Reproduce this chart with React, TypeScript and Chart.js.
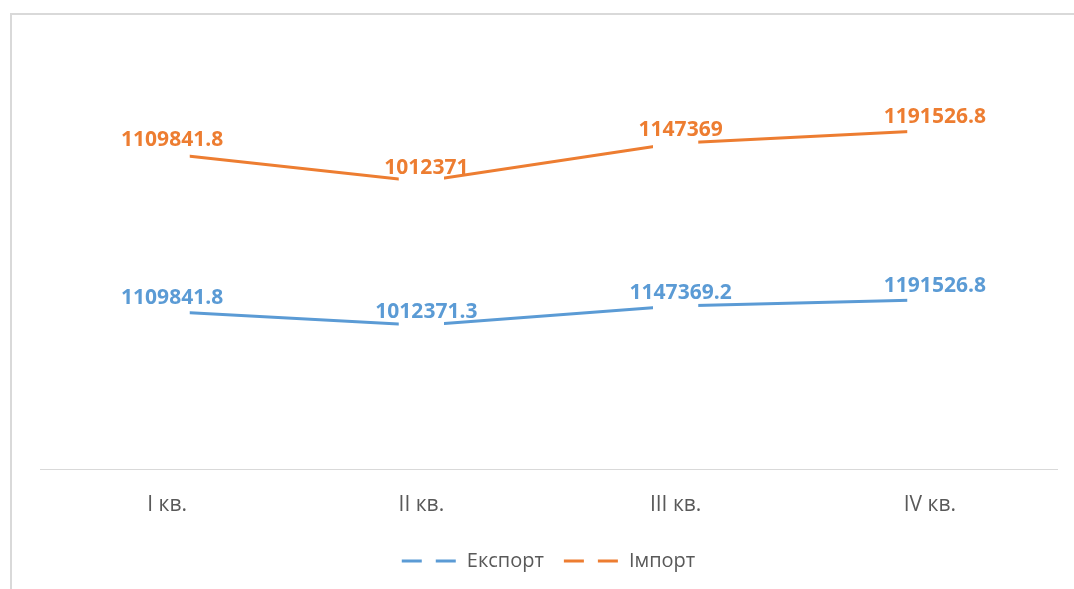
import React, { useEffect, useRef } from "react";
import { Chart, registerables } from "chart.js";

Chart.register(...registerables);

const categories = ["I кв.", "II кв.", "III кв.", "IV кв."];
const exportValues = [1109841.8, 1012371.3, 1147369.2, 1191526.8];
const importValues = [1109841.8, 1012371, 1147369, 1191526.8];
const seriesNames = ["Експорт", "Імпорт"];
const seriesColors = ["#5B9BD5", "#ED7D31"];
const yMin = 0;
const yMax = 3000000;

const FONT = "'Open Sans', 'DejaVu Sans', sans-serif";

const dataLabelPlugin = {
  id: "dataLabels",
  afterDatasetsDraw(chart: any) {
    const ctx = chart.ctx;
    ctx.save();
    ctx.font = `bold 21px ${FONT}`;
    ctx.textAlign = "center";
    ctx.textBaseline = "alphabetic";
    chart.data.datasets.forEach((ds: any, i: number) => {
      const meta = chart.getDatasetMeta(i);
      ctx.fillStyle = ds.borderColor;
      meta.data.forEach((pt: any, j: number) => {
        ctx.fillText(String(ds.data[j]), pt.x + 5, pt.y - 7.5);
      });
    });
    ctx.restore();
  },
};

export default function App() {
  const ref = useRef<HTMLCanvasElement | null>(null);

  useEffect(() => {
    if (!ref.current) return;
    const mk = (i: number, data: number[]) => ({
      label: seriesNames[i],
      data,
      borderColor: seriesColors[i],
      backgroundColor: seriesColors[i],
      borderWidth: 3,
      borderCapStyle: "butt",
      fill: false,
      tension: 0,
      pointStyle: "rect",
      pointRadius: 32,
      pointHoverRadius: 32,
      pointBackgroundColor: "#ffffff",
      pointBorderColor: "#ffffff",
      pointBorderWidth: 0,
    });
    const chart = new Chart(ref.current, {
      type: "line",
      data: {
        labels: categories,
        datasets: [mk(0, exportValues), mk(1, importValues)] as any,
      },
      plugins: [dataLabelPlugin],
      options: {
        responsive: false,
        animation: false,
        devicePixelRatio: 1,
        layout: {
          autoPadding: false,
          padding: { left: 40, right: 17, top: 43, bottom: 8 },
        },
        plugins: {
          tooltip: { enabled: false },
          title: { display: false },
          legend: {
            display: true,
            position: "bottom",
            labels: {
              usePointStyle: true,
              pointStyleWidth: 55,
              padding: 20,
              color: "#595959",
              font: { family: FONT, size: 20 },
              generateLabels: (chart: any) =>
                chart.data.datasets.map((ds: any, i: number) => ({
                  text: ds.label,
                  fillStyle: ds.borderColor,
                  strokeStyle: ds.borderColor,
                  lineWidth: 3,
                  lineDash: [20, 14],
                  lineCap: "butt",
                  pointStyle: "line",
                  datasetIndex: i,
                  hidden: false,
                  fontColor: "#595959",
                })),
            },
          },
        },
        scales: {
          x: {
            offset: true,
            grid: { display: false, drawTicks: false, offset: true },
            border: { display: true, color: "#d9d9d9", width: 1 },
            ticks: {
              color: "#595959",
              font: { family: FONT, size: 21 },
              padding: 23,
            },
            afterFit: (scale: any) => {
              scale.height = 62;
            },
          },
          y: {
            display: false,
            stacked: true,
            min: yMin,
            max: yMax,
          },
        },
      } as any,
    });
    return () => chart.destroy();
  }, []);

  return (
    <div
      style={{
        position: "fixed",
        left: 0,
        top: 0,
        width: 1074,
        height: 589,
        overflow: "hidden",
        background: "#ffffff",
      }}
    >
      <div
        style={{
          position: "absolute",
          left: 10,
          top: 13,
          width: 1200,
          height: 700,
          borderLeft: "2px solid #d9d9d9",
          borderTop: "2px solid #d9d9d9",
        }}
      />
      <canvas
        ref={ref}
        width={1074}
        height={589}
        style={{ position: "absolute", left: 0, top: 0 }}
      />
    </div>
  );
}
